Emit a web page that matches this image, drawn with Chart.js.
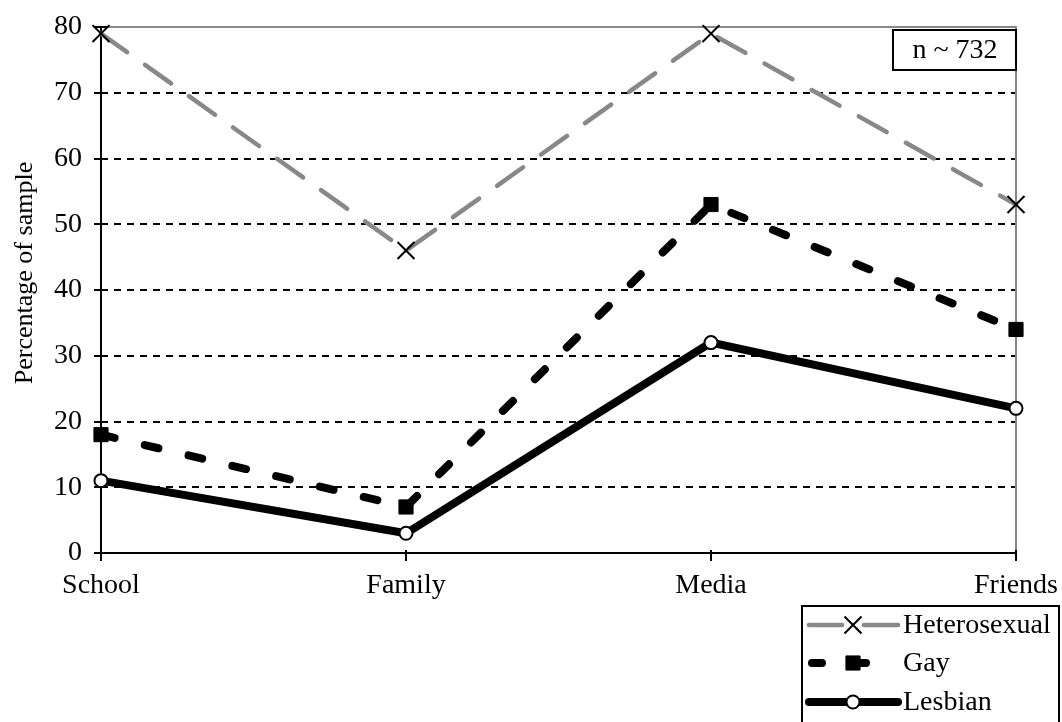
<!DOCTYPE html>
<html>
<head>
<meta charset="utf-8">
<script src="https://cdn.jsdelivr.net/npm/chart.js"></script>
<style>
  body { margin: 0; background: #fff; }
  #wrap { width: 1062px; height: 722px; }
</style>
</head>
<body>
<div id="wrap"><canvas id="chart" width="1062" height="722"></canvas></div>
<script>
// source of information, percentage of sample
const categories = ['School', 'Family', 'Media', 'Friends'];
const heterosexual = [79, 46, 79, 53];
const gay = [18, 7, 53, 34];
const lesbian = [11, 3, 32, 22];
const yTicks = [0, 10, 20, 30, 40, 50, 60, 70, 80];
const seriesNames = ['Heterosexual', 'Gay', 'Lesbian'];
const yTitle = 'Percentage of sample';
const sampleNote = 'n ~ 732';

const FONT = '"Liberation Serif", "Times New Roman", serif';
const GREY = '#888888';

// dashed grid, grey frame, tick marks crossing the axes
const frame = {
    id: 'frame',
    beforeDatasetsDraw(chart) {
        const {ctx, chartArea: a, scales: {x, y}} = chart;
        ctx.save();
        ctx.strokeStyle = '#000';
        ctx.lineWidth = 2;
        ctx.setLineDash([7, 6]);
        yTicks.forEach(v => {
            if (v === 0 || v === 80) return;
            const py = Math.round(y.getPixelForValue(v));
            ctx.beginPath();
            ctx.moveTo(a.left, py);
            ctx.lineTo(a.right, py);
            ctx.stroke();
        });
        ctx.setLineDash([]);
        ctx.strokeStyle = GREY;
        ctx.beginPath();
        ctx.moveTo(a.left, Math.round(y.getPixelForValue(80)));
        ctx.lineTo(a.right, Math.round(y.getPixelForValue(80)));
        ctx.lineTo(a.right, a.bottom);
        ctx.stroke();

        ctx.strokeStyle = '#000';
        yTicks.forEach(v => {
            const py = Math.round(y.getPixelForValue(v));
            ctx.beginPath();
            ctx.moveTo(a.left - 7, py);
            ctx.lineTo(a.left + 6, py);
            ctx.stroke();
        });
        categories.forEach((c, i) => {
            const px = Math.round(x.getPixelForValue(i));
            ctx.beginPath();
            ctx.moveTo(px, a.bottom - 3);
            ctx.lineTo(px, a.bottom + 8);
            ctx.stroke();
        });

        // y title, sits a bit above the middle in the original
        ctx.fillStyle = '#000';
        ctx.font = '26px ' + FONT;
        ctx.textAlign = 'center';
        ctx.textBaseline = 'middle';
        ctx.translate(25, 273);
        ctx.rotate(-Math.PI / 2);
        ctx.fillText(yTitle, 0, 0);
        ctx.restore();
    }
};

// n box and the legend box at bottom right
const notes = {
    id: 'notes',
    afterDraw(chart) {
        const {ctx, chartArea: a} = chart;
        const ds = chart.data.datasets;
        ctx.save();
        ctx.font = '28px ' + FONT;
        ctx.textBaseline = 'middle';

        // n box
        ctx.fillStyle = '#fff';
        ctx.fillRect(a.right - 123, a.top + 3, 123, 40);
        ctx.strokeStyle = '#000';
        ctx.lineWidth = 2;
        ctx.strokeRect(a.right - 123, a.top + 3, 123, 40);
        ctx.fillStyle = '#000';
        ctx.textAlign = 'center';
        ctx.fillText(sampleNote, a.right - 61, a.top + 24);

        // legend
        const lx = 802, ly = 606;
        ctx.strokeRect(lx, ly, 257, 140);
        ctx.textAlign = 'left';
        const rows = [625, 663, 702];
        rows.forEach((ry, i) => {
            const d = ds[i];
            ctx.strokeStyle = d.borderColor;
            ctx.lineWidth = d.borderWidth;
            ctx.lineCap = 'round';
            ctx.beginPath();
            if (i === 0) {
                ctx.moveTo(809, ry); ctx.lineTo(842, ry);
                ctx.moveTo(864, ry); ctx.lineTo(898, ry);
            } else if (i === 1) {
                ctx.moveTo(812, ry); ctx.lineTo(822, ry);
                ctx.moveTo(853, ry); ctx.lineTo(866, ry);
            } else {
                ctx.moveTo(809, ry); ctx.lineTo(898, ry);
            }
            ctx.stroke();
            ctx.lineCap = 'butt';
            ctx.fillStyle = d.pointBackgroundColor;
            ctx.strokeStyle = d.pointBorderColor;
            ctx.lineWidth = d.pointBorderWidth;
            Chart.helpers.drawPoint(ctx, {
                pointStyle: d.pointStyle,
                radius: d.pointRadius,
                borderWidth: d.pointBorderWidth,
                rotation: 0
            }, 853, ry);
            ctx.fillStyle = '#000';
            ctx.fillText(seriesNames[i], 903, ry + 1);
        });
        ctx.restore();
    }
};

new Chart(document.getElementById('chart'), {
    type: 'line',
    data: {
        labels: categories,
        datasets: [
            {
                label: seriesNames[0],
                data: heterosexual,
                borderColor: GREY,
                borderWidth: 4.5,
                borderDash: [32, 22],
                borderCapStyle: 'round',
                pointStyle: 'crossRot',
                pointRadius: 12,
                pointBorderWidth: 2,
                pointBorderColor: '#000',
                pointBackgroundColor: '#000',
                order: 3,
                clip: false
            },
            {
                label: seriesNames[1],
                data: gay,
                borderColor: '#000',
                borderWidth: 8,
                borderDash: [14, 31],
                borderCapStyle: 'round',
                pointStyle: 'rect',
                pointRadius: 10,
                pointBorderWidth: 1,
                pointBorderColor: '#000',
                pointBackgroundColor: '#000',
                order: 2,
                clip: false
            },
            {
                label: seriesNames[2],
                data: lesbian,
                borderColor: '#000',
                borderWidth: 8,
                pointStyle: 'circle',
                pointRadius: 6.5,
                pointBorderWidth: 2,
                pointBorderColor: '#000',
                pointBackgroundColor: '#fff',
                order: 1,
                clip: false
            }
        ]
    },
    options: {
        responsive: false,
        animation: false,
        tension: 0,
        layout: {padding: {left: 0, top: 27, right: 46, bottom: 0}},
        plugins: {
            legend: {display: false},
            tooltip: {enabled: false}
        },
        scales: {
            x: {
                offset: false,
                grid: {display: false, drawTicks: false},
                border: {display: true, color: '#000', width: 2},
                ticks: {
                    color: '#000',
                    padding: 16,
                    maxRotation: 0,
                    font: {family: FONT, size: 28}
                },
                afterFit(scale) {
                    scale.height = 722 - 553;
                    scale.paddingLeft = 0;
                    scale.paddingRight = 0;
                }
            },
            y: {
                min: 0,
                max: 80,
                grid: {display: false, drawTicks: false},
                border: {display: true, color: '#000', width: 2},
                afterBuildTicks(scale) { scale.ticks = yTicks.map(v => ({value: v})); },
                ticks: {
                    color: '#000',
                    padding: 19,
                    font: {family: FONT, size: 28}
                },
                afterFit(scale) {
                    scale.width = 101;
                    scale.paddingTop = 0;
                    scale.paddingBottom = 0;
                }
            }
        }
    },
    plugins: [frame, notes]
});
</script>
</body>
</html>
